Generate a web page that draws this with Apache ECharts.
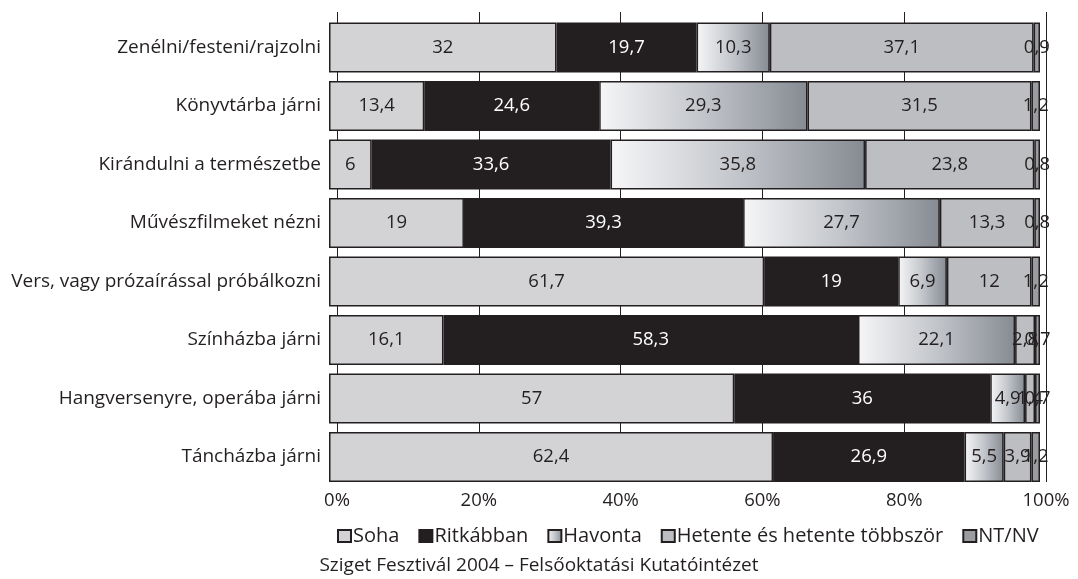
<!DOCTYPE html>
<html>
<head>
<meta charset="UTF-8">
<title>Sziget 2004</title>
<style>
    html, body { margin: 0; padding: 0; background: #fff; }
    #chartArea { width: 1078px; height: 579px; }
</style>
</head>
<body>
<div id="chartArea"></div>
<script src="https://cdn.jsdelivr.net/npm/echarts@6/dist/echarts.min.js"></script>
<script>
var categories = ['Zenélni/festeni/rajzolni', 'Könyvtárba járni', 'Kirándulni a természetbe',
    'Művészfilmeket nézni', 'Vers, vagy prózaírással próbálkozni', 'Színházba járni',
    'Hangversenyre, operába járni', 'Táncházba járni'];
var seriesNames = ['Soha', 'Ritkábban', 'Havonta', 'Hetente és hetente többször', 'NT/NV'];
var soha      = [32, 13.4, 6, 19, 61.7, 16.1, 57, 62.4];
var ritkabban = [19.7, 24.6, 33.6, 39.3, 19, 58.3, 36, 26.9];
var havonta   = [10.3, 29.3, 35.8, 27.7, 6.9, 22.1, 4.9, 5.5];
var hetente   = [37.1, 31.5, 23.8, 13.3, 12, 2.8, 1.4, 3.9];
var ntnv      = [0.9, 1.2, 0.8, 0.8, 1.2, 0.7, 0.7, 1.2];
var tickLabels = ['0%', '20%', '40%', '60%', '80%', '100%'];

var dark = '#231f20';
var font = 'Open Sans';

var allRows = [soha, ritkabban, havonta, hetente, ntnv];
// 100% stacked: every bar is scaled to its own total
var totals = categories.map(function (c, i) {
    return allRows.reduce(function (s, arr) { return s + arr[i]; }, 0);
});
function toPercent(arr) {
    return arr.map(function (v, i) { return { value: v / totals[i] * 100, raw: v }; });
}

var fills = [
    '#d3d3d5',
    dark,
    new echarts.graphic.LinearGradient(0, 0, 1, 0, [
        { offset: 0, color: '#f6f6f8' },
        { offset: 0.5, color: '#c2c5ca' },
        { offset: 1, color: '#868b93' }
    ]),
    '#bdbec1',
    '#9b9ca0'
];

var myChart = echarts.init(document.getElementById('chartArea'));

var series = allRows.map(function (arr, k) {
    return {
        name: seriesNames[k],
        type: 'bar',
        stack: 'all',
        xAxisIndex: 1,
        yAxisIndex: 1,
        barWidth: 50,
        data: toPercent(arr),
        itemStyle: { color: fills[k], borderColor: dark, borderWidth: 1.5 },
        label: {
            show: true,
            position: 'inside',
            fontFamily: font,
            fontSize: 18.5,
            color: k === 1 ? '#fff' : dark,
            formatter: function (p) { return String(p.data.raw).replace('.', ','); }
        },
        emphasis: { disabled: true }
    };
});

myChart.setOption({
    animation: false,
    title: {
        text: 'Sziget Fesztivál 2004 – Felsőoktatási Kutatóintézet',
        left: 'center',
        top: 551,
        textStyle: { fontFamily: font, fontSize: 19, fontWeight: 'normal', color: dark }
    },
    legend: {
        data: seriesNames,
        icon: 'rect',
        left: 332,
        width: 740,
        top: 521,
        align: 'left',
        itemWidth: 13,
        itemHeight: 12,
        itemGap: 19,
        textStyle: { fontFamily: font, fontSize: 20, color: dark, padding: [0, 0, 0, -3] }
    },
    grid: [
        { left: 337, width: 709, top: 12, height: 470 },
        { left: 329, width: 711, top: 18.3, height: 468 }
    ],
    xAxis: [
        {
            type: 'value', gridIndex: 0, min: 0, max: 100, interval: 20,
            axisLine: { show: false }, axisTick: { show: false },
            splitLine: { show: true, lineStyle: { color: dark, width: 1 } },
            axisLabel: {
                margin: 9, fontFamily: font, fontSize: 18.5, color: dark,
                formatter: function (v) { return tickLabels[v / 20]; }
            }
        },
        { type: 'value', gridIndex: 1, min: 0, max: 100, show: false }
    ],
    yAxis: [
        { type: 'value', gridIndex: 0, show: false },
        {
            type: 'category', gridIndex: 1, inverse: true, data: categories,
            axisLine: { show: false }, axisTick: { show: false },
            axisLabel: { margin: 8, fontFamily: font, fontSize: 19, color: dark }
        }
    ],
    series: series
});
</script>
</body>
</html>
